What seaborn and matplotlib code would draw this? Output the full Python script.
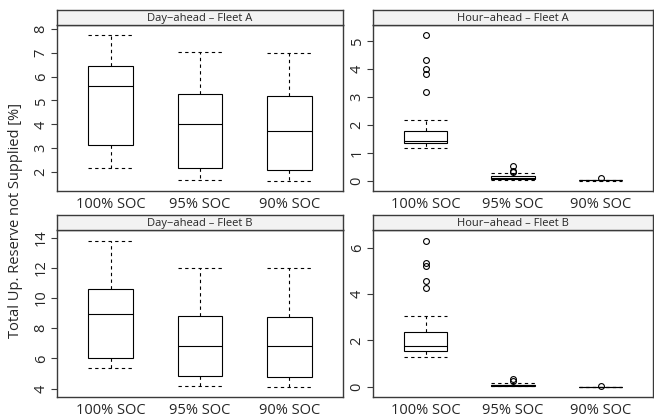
import pandas as pd
import seaborn as sns
import matplotlib.pyplot as plt

# Box summaries: [lower whisker, Q1, median, Q3, upper whisker]
categories = ["100% SOC", "95% SOC", "90% SOC"]
panel_titles = ["Day\u2212ahead \u2013 Fleet A", "Hour\u2212ahead \u2013 Fleet A",
                "Day\u2212ahead \u2013 Fleet B", "Hour\u2212ahead \u2013 Fleet B"]

day_a_stats = [[2.15, 3.13, 5.62, 6.45, 7.76],
               [1.66, 2.15, 4.00, 5.27, 7.02],
               [1.60, 2.10, 3.73, 5.20, 7.00]]
day_a_out = [[], [], []]

hour_a_stats = [[1.19, 1.34, 1.42, 1.79, 2.19],
                [0.02, 0.06, 0.10, 0.16, 0.29],
                [0.01, 0.02, 0.03, 0.04, 0.05]]
hour_a_out = [[3.17, 3.81, 3.99, 4.33, 5.21], [0.33, 0.37, 0.54], [0.10]]

day_b_stats = [[5.35, 6.01, 8.93, 10.58, 13.80],
               [4.16, 4.82, 6.83, 8.83, 12.01],
               [4.13, 4.78, 6.83, 8.75, 12.00]]
day_b_out = [[], [], []]

hour_b_stats = [[1.27, 1.54, 1.77, 2.37, 3.06],
                [0.02, 0.04, 0.06, 0.09, 0.15],
                [0.00, 0.00, 0.00, 0.00, 0.00]]
hour_b_out = [[4.26, 4.55, 5.21, 5.35, 6.30], [0.25, 0.32], [0.02]]

all_stats = [day_a_stats, hour_a_stats, day_b_stats, hour_b_stats]
all_out = [day_a_out, hour_a_out, day_b_out, hour_b_out]


def sample_from_summary(s, outliers):
    # small sample whose percentiles hit the summary values exactly
    lo, q1, med, q3, hi = s
    m = len(outliers) + 1
    return [lo] * m + [q1] * m + [med] * m + [q3] + [hi] + list(outliers)


rows = []
for p, title in enumerate(panel_titles):
    for c, cat in enumerate(categories):
        for v in sample_from_summary(all_stats[p][c], all_out[p][c]):
            rows.append({"panel": title, "soc": cat, "value": v})
df = pd.DataFrame(rows)

sns.set_style("white")
plt.rcParams["font.family"] = ["Open Sans", "DejaVu Sans"]
frame = "#3a3a3a"

fig = plt.figure(figsize=(6.54, 4.18), dpi=100)
W, H = 654, 418
# pixel boxes of the plot regions: (left, top, right, bottom)
boxes = [(57, 25, 343, 191), (373, 25, 653, 191),
         (57, 230, 343, 397), (373, 230, 653, 397)]
strip_h = 15.5
ylims = [(1.2, 8.17), (-0.36, 5.57), (3.45, 14.51), (-0.44, 6.76)]
yticks = [range(2, 9), range(0, 6), range(4, 15, 2), range(0, 7, 2)]

for p, title in enumerate(panel_titles):
    l, t, r, b = boxes[p]
    ax = fig.add_axes([l / W, 1 - b / H, (r - l) / W, (b - t) / H])
    sns.boxplot(data=df[df.panel == title], x="soc", y="value", order=categories,
                ax=ax, width=0.5, color="white", linecolor="black", linewidth=0.8,
                saturation=1, fliersize=4.2, capwidths=0.5,
                whiskerprops=dict(linestyle=(0, (3, 3))),
                capprops=dict(linestyle=(0, (3, 3))),
                flierprops=dict(marker="o", markerfacecolor="none",
                                markeredgecolor="black", markeredgewidth=0.8))
    ax.set_xlim(-0.6, 2.6)
    ax.set_ylim(*ylims[p])
    ax.set_yticks(list(yticks[p]))
    ax.set_xlabel("")
    ax.set_ylabel("")
    ax.tick_params(axis="y", length=4, width=0.8, color=frame, pad=2,
                   labelsize=10.5, labelrotation=90, left=True)
    ax.tick_params(axis="x", length=0, pad=4, labelsize=10.5)
    for lab in ax.get_yticklabels():
        lab.set_va("center")
    for sp in ax.spines.values():
        sp.set_color(frame)
        sp.set_linewidth(1.0)

    # strip header
    sax = fig.add_axes([l / W, 1 - t / H, (r - l) / W, strip_h / H])
    sax.set_facecolor("#f2f2f2")
    sax.set_xticks([])
    sax.set_yticks([])
    for sp in sax.spines.values():
        sp.set_color(frame)
        sp.set_linewidth(1.0)
    sax.text(0.5, 0.45, title, ha="center", va="center", fontsize=8,
             transform=sax.transAxes)

fig.text(0.024, 1 - 221 / H, "Total Up. Reserve not Supplied [%]", rotation=90,
         ha="center", va="center", fontsize=10.5)

plt.savefig("out.png", dpi=100)
